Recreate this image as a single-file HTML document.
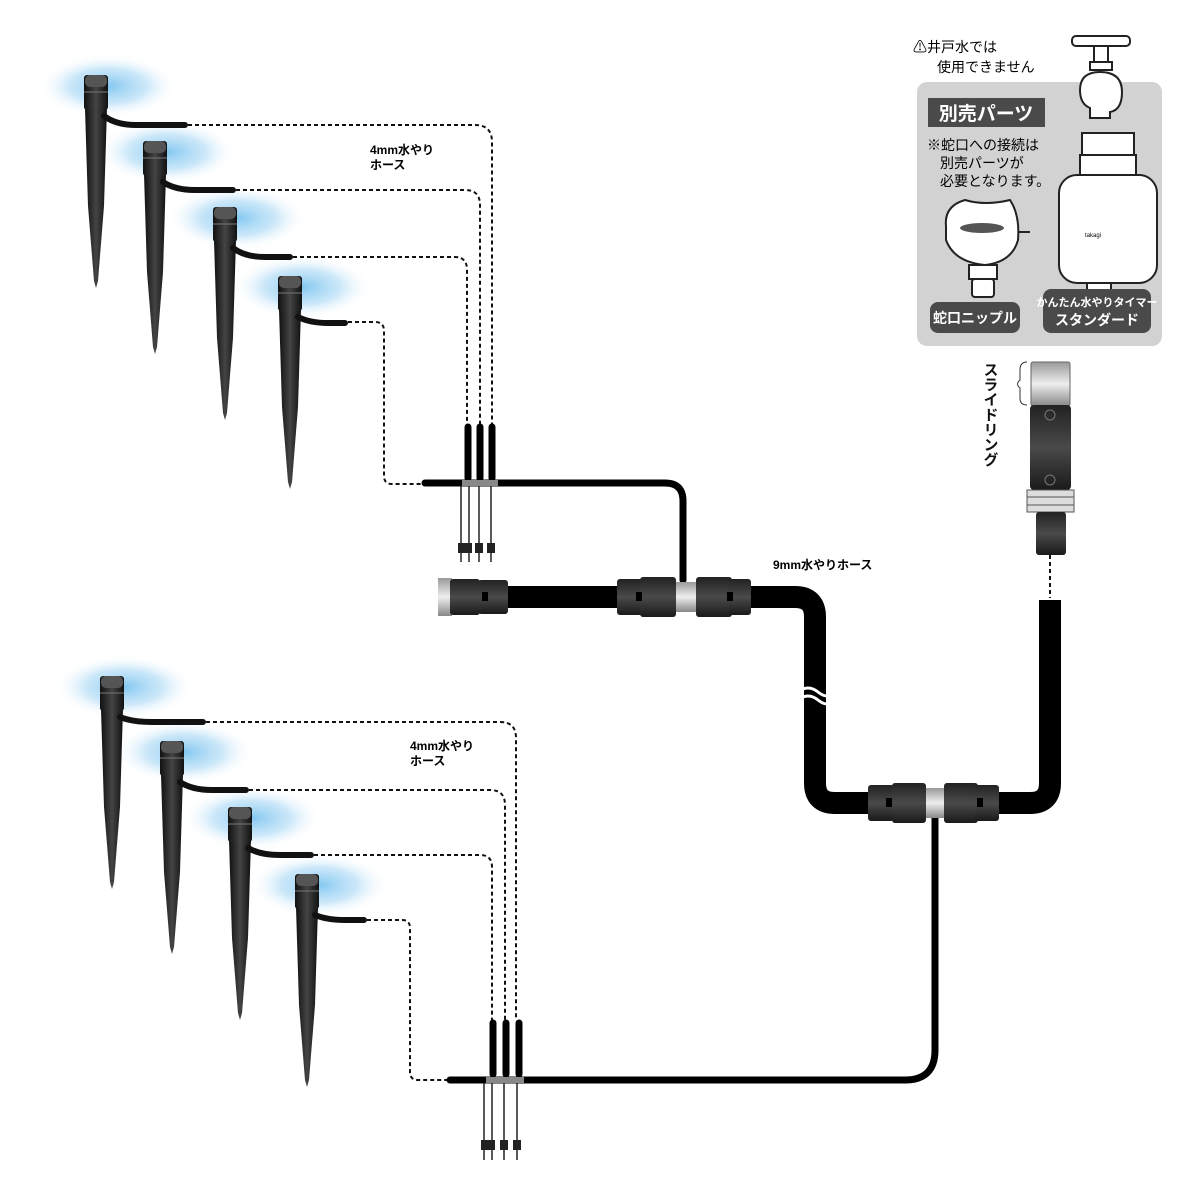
<!DOCTYPE html>
<html><head><meta charset="utf-8"><style>
html,body{margin:0;padding:0;background:#fff}
svg{display:block}
text{font-family:"Liberation Sans","Noto Sans CJK JP",sans-serif}
</style></head><body>
<svg width="1200" height="1200" viewBox="0 0 1200 1200" xmlns="http://www.w3.org/2000/svg">
<defs>
<radialGradient id="glow" cx="50%" cy="50%" r="50%">
<stop offset="0" stop-color="#7cc4f0" stop-opacity="0.95"/>
<stop offset="0.55" stop-color="#a9d8f5" stop-opacity="0.6"/>
<stop offset="1" stop-color="#ffffff" stop-opacity="0"/>
</radialGradient>
<linearGradient id="stk" x1="0" x2="1">
<stop offset="0" stop-color="#111"/><stop offset="0.5" stop-color="#444"/><stop offset="1" stop-color="#111"/>
</linearGradient>
<linearGradient id="silver" x1="0" x2="0" y1="0" y2="1">
<stop offset="0" stop-color="#999"/><stop offset="0.5" stop-color="#eee"/><stop offset="1" stop-color="#888"/>
</linearGradient>
<linearGradient id="conn" x1="0" x2="0" y1="0" y2="1">
<stop offset="0" stop-color="#222"/><stop offset="0.5" stop-color="#4a4a4a"/><stop offset="1" stop-color="#1a1a1a"/>
</linearGradient>
<ellipse id="gl" cx="12" cy="0" rx="70" ry="32" fill="url(#glow)"/>
<g id="stake">
<path d="M-11 22 L11 22 L8 120 L2 195 L0 202 L-2 195 L-8 120 Z" fill="url(#stk)"/>
<rect x="-12" y="-11" width="24" height="35" rx="3" fill="url(#stk)"/>
<rect x="-11" y="-11" width="22" height="12" rx="5" fill="#555"/>
<line x1="-12" y1="6" x2="12" y2="6" stroke="#777" stroke-width="1"/>
</g>
</defs>

<!-- glows -->
<use href="#gl" x="96" y="86"/><use href="#gl" x="155" y="152"/><use href="#gl" x="225" y="218"/><use href="#gl" x="290" y="287"/>
<use href="#gl" x="112" y="687"/><use href="#gl" x="172" y="752"/><use href="#gl" x="240" y="818"/><use href="#gl" x="307" y="885"/>

<!-- stakes -->
<use href="#stake" x="96" y="86"/>
<use href="#stake" x="155" y="152"/>
<use href="#stake" x="225" y="218"/>
<use href="#stake" x="290" y="287"/>
<use href="#stake" x="112" y="687"/>
<use href="#stake" x="172" y="752"/>
<use href="#stake" x="240" y="818"/>
<use href="#stake" x="307" y="885"/>

<!-- stake hoses -->
<g fill="none" stroke="#111" stroke-width="6" stroke-linecap="round">
<path d="M104 116 Q116 125 136 125 L185 125"/>
<path d="M163 182 Q175 190 195 190 L233 190"/>
<path d="M233 248 Q245 257 265 257 L290 257"/>
<path d="M298 317 Q310 323 328 323 L345 323"/>
<path d="M120 717 Q132 722 152 722 L203 722"/>
<path d="M180 782 Q192 790 212 790 L246 790"/>
<path d="M248 848 Q260 855 280 855 L311 855"/>
<path d="M315 915 Q327 920 345 920 L364 920"/>
</g>

<!-- dotted lines -->
<g fill="none" stroke="#111" stroke-width="2" stroke-dasharray="4,3">
<path d="M188 125 L475 125 Q492 125 492 142 L492 425"/>
<path d="M236 190 L465 190 Q480 190 480 205 L480 425"/>
<path d="M293 257 L455 257 Q467 257 467 270 L467 425"/>
<path d="M348 322 L375 322 Q384 322 384 331 L384 476 Q384 484 392 484 L425 484"/>
<path d="M206 722 L500 722 Q516 722 516 738 L516 1020"/>
<path d="M249 790 L490 790 Q505 790 505 805 L505 1020"/>
<path d="M314 855 L480 855 Q492 855 492 867 L492 1020"/>
<path d="M367 920 L402 920 Q410 920 410 928 L410 1072 Q410 1080 418 1080 L448 1080"/>
<path d="M1050 555 L1050 598"/>
</g>

<!-- thin hoses -->
<g fill="none" stroke="#000" stroke-width="7" stroke-linecap="round">
<path d="M425 483 L665 483 Q683 483 683 501 L683 580"/>
<path d="M450 1080 L905 1080 Q935 1080 935 1050 L935 812"/>
</g>
<g stroke="#000" stroke-width="7" stroke-linecap="round">
<line x1="468" y1="427" x2="468" y2="478"/><line x1="480" y1="427" x2="480" y2="478"/><line x1="492" y1="427" x2="492" y2="478"/>
<line x1="493" y1="1023" x2="493" y2="1074"/><line x1="506" y1="1023" x2="506" y2="1074"/><line x1="519" y1="1023" x2="519" y2="1074"/>
</g>
<g stroke="#222" stroke-width="1.5">
<line x1="461" y1="486" x2="461" y2="562"/><line x1="469" y1="486" x2="469" y2="562"/><line x1="479" y1="486" x2="479" y2="562"/><line x1="491" y1="486" x2="491" y2="562"/>
<line x1="484" y1="1083" x2="484" y2="1160"/><line x1="492" y1="1083" x2="492" y2="1160"/><line x1="504" y1="1083" x2="504" y2="1160"/><line x1="517" y1="1083" x2="517" y2="1160"/>
</g>
<g fill="#222">
<rect x="458" y="543" width="14" height="10"/><rect x="475" y="543" width="8" height="10"/><rect x="487" y="543" width="8" height="10"/>
<rect x="481" y="1140" width="14" height="10"/><rect x="500" y="1140" width="8" height="10"/><rect x="513" y="1140" width="8" height="10"/>
<rect x="462" y="480" width="36" height="6" fill="#888"/>
<rect x="486" y="1077" width="38" height="6" fill="#888"/>
</g>

<!-- 9mm hose -->
<path d="M505 597 L795 597 Q815 597 815 617 L815 783 Q815 803 835 803 L1030 803 Q1050 803 1050 783 L1050 600" fill="none" stroke="#000" stroke-width="22"/>
<path d="M798 692 Q808 684 818 692 Q828 700 834 692" fill="none" stroke="#fff" stroke-width="3"/>
<path d="M798 700 Q808 692 818 700 Q828 708 834 700" fill="none" stroke="#fff" stroke-width="3"/>
<rect x="438" y="578" width="14" height="38" fill="url(#silver)"/>
<rect x="450" y="579" width="30" height="36" rx="3" fill="url(#conn)"/>
<rect x="478" y="580" width="30" height="34" rx="3" fill="url(#conn)"/>
<rect x="482" y="592" width="6" height="9" fill="#000"/>
<rect x="617" y="579" width="26" height="36" rx="3" fill="url(#conn)"/>
<rect x="640" y="577" width="36" height="40" rx="3" fill="url(#conn)"/>
<rect x="676" y="582" width="20" height="30" fill="url(#silver)"/>
<rect x="696" y="577" width="36" height="40" rx="3" fill="url(#conn)"/>
<rect x="729" y="579" width="22" height="36" rx="3" fill="url(#conn)"/>
<rect x="636" y="592" width="6" height="9" fill="#000"/><rect x="727" y="592" width="6" height="9" fill="#000"/>
<rect x="868" y="785" width="26" height="36" rx="3" fill="url(#conn)"/>
<rect x="892" y="783" width="34" height="40" rx="3" fill="url(#conn)"/>
<rect x="926" y="788" width="18" height="30" fill="url(#silver)"/>
<rect x="944" y="783" width="34" height="40" rx="3" fill="url(#conn)"/>
<rect x="975" y="785" width="24" height="36" rx="3" fill="url(#conn)"/>
<rect x="886" y="798" width="6" height="9" fill="#000"/><rect x="977" y="798" width="6" height="9" fill="#000"/>

<!-- faucet connector -->
<rect x="1031" y="362" width="39" height="44" rx="2" fill="url(#silver)" stroke="#666"/>
<rect x="1030" y="405" width="41" height="85" rx="4" fill="url(#conn)"/>
<circle cx="1050" cy="415" r="5" fill="none" stroke="#777"/>
<circle cx="1050" cy="480" r="5" fill="none" stroke="#777"/>
<rect x="1027" y="490" width="47" height="22" fill="#ddd" stroke="#555"/>
<line x1="1027" y1="497" x2="1074" y2="497" stroke="#555"/><line x1="1027" y1="505" x2="1074" y2="505" stroke="#555"/>
<rect x="1036" y="512" width="30" height="43" rx="3" fill="url(#conn)"/>
<path d="M1027 362 Q1020 362 1020 370 L1020 380 Q1015 384 1020 388 L1020 398 Q1020 405 1027 405" fill="none" stroke="#333"/>
<text x="990" y="362" font-size="15" font-weight="bold" fill="#111" style="writing-mode:vertical-rl">スライドリング</text>

<text x="370" y="154" font-size="12" font-weight="bold">4mm水やり</text>
<text x="370" y="169" font-size="12" font-weight="bold">ホース</text>
<text x="410" y="750" font-size="12" font-weight="bold">4mm水やり</text>
<text x="410" y="765" font-size="12" font-weight="bold">ホース</text>
<text x="773" y="569" font-size="12" font-weight="bold">9mm水やりホース</text>

<!-- parts panel -->
<rect x="917" y="82" width="245" height="264" rx="10" fill="#d2d2d2"/>
<text x="913" y="52" font-size="14">⚠井戸水では</text>
<text x="937" y="72" font-size="14">使用できません</text>
<rect x="1072" y="36" width="58" height="10" rx="4" fill="#fff" stroke="#222" stroke-width="2"/>
<rect x="1094" y="46" width="14" height="18" fill="#fff" stroke="#222" stroke-width="2"/>
<rect x="1090" y="62" width="22" height="8" fill="#fff" stroke="#222" stroke-width="2"/>
<path d="M1080 90 Q1080 72 1100 72 Q1122 72 1122 92 Q1122 110 1110 112 L1110 118 L1090 118 L1090 108 Q1080 104 1080 90 Z" fill="#fff" stroke="#222" stroke-width="2"/>
<rect x="928" y="98" width="117" height="29" fill="#4a4a4a"/>
<text x="986" y="120" font-size="19" font-weight="bold" fill="#fff" text-anchor="middle">別売パーツ</text>
<text x="927" y="150" font-size="14">※蛇口への接続は</text>
<text x="940" y="168" font-size="14">別売パーツが</text>
<text x="940" y="186" font-size="14">必要となります。</text>
<rect x="1082" y="133" width="52" height="22" fill="#fff" stroke="#222" stroke-width="2"/>
<rect x="1080" y="155" width="56" height="20" fill="#fff" stroke="#222" stroke-width="2"/>
<rect x="1059" y="175" width="98" height="108" rx="18" fill="#fff" stroke="#222" stroke-width="2"/>
<text x="1085" y="237" font-size="6">takagi</text>
<rect x="1087" y="283" width="24" height="14" fill="#fff" stroke="#222" stroke-width="2"/>
<rect x="1091" y="297" width="16" height="14" fill="#fff" stroke="#222" stroke-width="2"/>
<path d="M946 226 Q944 206 965 200 Q985 206 1010 200 Q1020 215 1018 240 Q1012 262 985 265 Q954 262 946 240 Z" fill="#fff" stroke="#222" stroke-width="2"/>
<ellipse cx="982" cy="228" rx="22" ry="5" fill="#555"/>
<line x1="1018" y1="232" x2="1030" y2="232" stroke="#222" stroke-width="2"/>
<rect x="969" y="265" width="28" height="14" fill="#fff" stroke="#222" stroke-width="2"/>
<rect x="972" y="279" width="22" height="18" rx="3" fill="#fff" stroke="#222" stroke-width="2"/>
<rect x="930" y="302" width="90" height="31" rx="8" fill="#4a4a4a"/>
<text x="975" y="323" font-size="14" font-weight="bold" fill="#fff" text-anchor="middle">蛇口ニップル</text>
<rect x="1043" y="289" width="108" height="44" rx="8" fill="#4a4a4a"/>
<text x="1097" y="306" font-size="11" font-weight="bold" fill="#fff" text-anchor="middle">かんたん水やりタイマー</text>
<text x="1097" y="325" font-size="14" font-weight="bold" fill="#fff" text-anchor="middle">スタンダード</text>
</svg>
</body></html>
